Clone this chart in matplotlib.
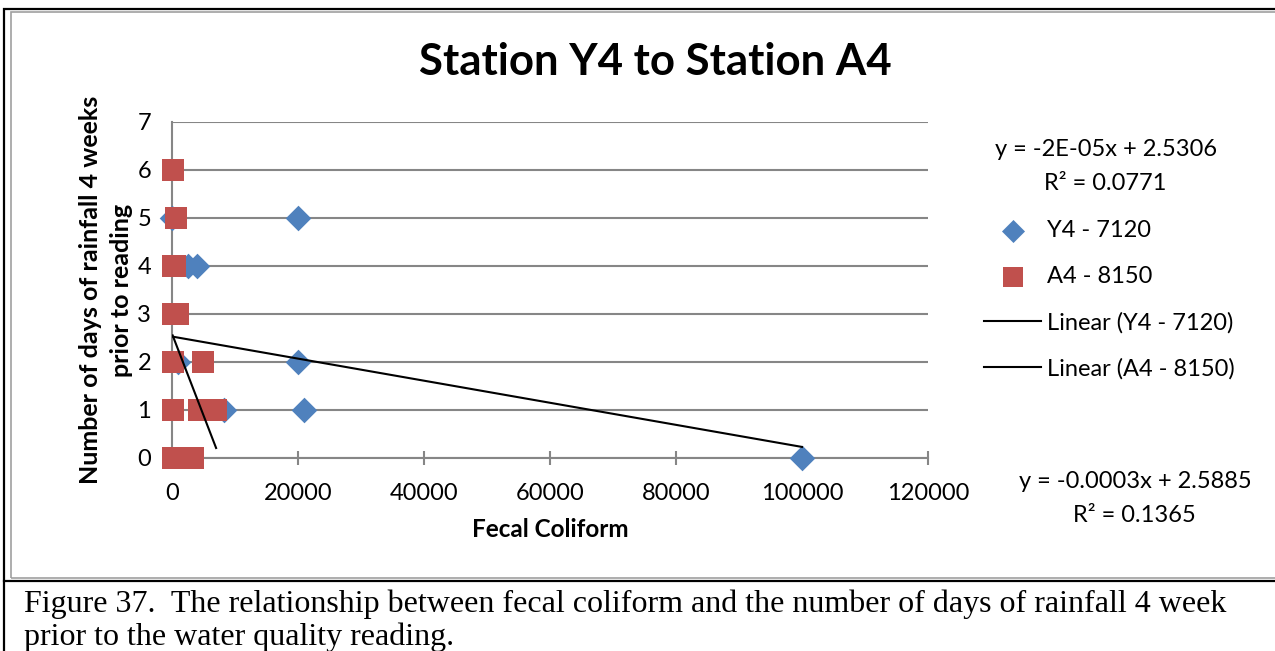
import numpy as np
import matplotlib
matplotlib.use('Agg')
from matplotlib import pyplot as plt
from matplotlib.lines import Line2D
from matplotlib.patches import Rectangle

# data
y4_fc = [0, 20000, 2500, 4000, 900, 20000, 8300, 21000, 100000]
y4_days = [5, 5, 4, 4, 2, 2, 1, 1, 0]
a4_fc = [100, 600, 200, 500, 100, 1000, 100, 5000, 100, 4300, 5800, 7000, 200, 1700, 3300]
a4_days = [6, 5, 4, 4, 3, 3, 2, 2, 1, 1, 1, 1, 0, 0, 0]

# trend line coefficients as drawn
y4_fit = (-2.3e-05, 2.5306)
a4_fit = (-0.00034, 2.5885)
y4_eq = ['y = -2E-05x + 2.5306', 'R² = 0.0771']
a4_eq = ['y = -0.0003x + 2.5885', 'R² = 0.1365']
caption = ['Figure 37.  The relationship between fecal coliform and the number of days of rainfall 4 week',
           'prior to the water quality reading.']

blue = '#4F81BD'
red = '#C0504D'
grey = '#868686'

plt.rcParams['font.family'] = ['Lato', 'DejaVu Sans']

fig = plt.figure(figsize=(12.75, 6.51), dpi=100)
W, H = 1275., 651.

def fy(py):
    # pixel row -> figure fraction
    return 1 - py/H

# table frame around the chart + caption
fig.add_artist(Rectangle((4/W, -0.1), 1.2, 1.1 - 9/H, transform=fig.transFigure,
                         fill=False, ec='black', lw=1.6))
fig.add_artist(Line2D([4/W, 1], [fy(581)]*2, transform=fig.transFigure, color='black', lw=1.6))
fig.add_artist(Rectangle((11/W, fy(578)), 1.2, (578 - 12)/H, transform=fig.transFigure,
                         fill=False, ec='#A0A0A0', lw=1.2))

ax = fig.add_axes([172/W, fy(458), (928 - 172)/W, (458 - 122)/H])

ax.scatter(y4_fc, y4_days, marker='D', s=170, color=blue, clip_on=False, zorder=3,
           label='Y4 - 7120', linewidths=0)
ax.scatter(a4_fc, a4_days, marker='s', s=240, color=red, clip_on=False, zorder=4,
           label='A4 - 8150', linewidths=0)

x1 = np.array([min(y4_fc), max(y4_fc)])
ax.plot(x1, y4_fit[0]*x1 + y4_fit[1], color='black', lw=1.5, zorder=5, label='Linear (Y4 - 7120)')
x2 = np.array([min(a4_fc), max(a4_fc)])
ax.plot(x2, a4_fit[0]*x2 + a4_fit[1], color='black', lw=1.5, zorder=5, label='Linear (A4 - 8150)')

ax.set_xlim(0, 120000)
ax.set_ylim(0, 7)
ax.set_xticks(np.arange(0, 120001, 20000))
ax.set_yticks(range(0, 8))
ax.yaxis.grid(True, color=grey, lw=1.5)
ax.set_axisbelow(True)
for s in ['top', 'right']:
    ax.spines[s].set_visible(False)
for s in ['left', 'bottom']:
    ax.spines[s].set_color(grey)
    ax.spines[s].set_linewidth(1.5)
ax.tick_params(axis='x', direction='inout', length=10, width=1.5, color=grey, labelsize=17, pad=13)
ax.tick_params(axis='y', length=0, labelsize=17, pad=15)

ax.set_xlabel('Fecal Coliform', fontsize=17.5, fontweight='bold', labelpad=10)
ax.set_ylabel('Number of days of rainfall 4 weeks\nprior to reading', fontsize=18,
              fontweight='bold', labelpad=3, linespacing=1.45)
fig.text(655/W, fy(62), 'Station Y4 to Station A4', fontsize=31.5, fontweight='bold',
         ha='center', va='center')

fig.legend(loc='center left', bbox_to_anchor=(963/W, fy(300)), frameon=False,
           fontsize=17, labelspacing=1.05, handlelength=2.4, handletextpad=0.25, markerscale=0.9)

fig.text(1106/W, fy(150), y4_eq[0], fontsize=17, ha='center', va='center')
fig.text(1105/W, fy(183), y4_eq[1], fontsize=17, ha='center', va='center')
fig.text(1135/W, fy(482), a4_eq[0], fontsize=17, ha='center', va='center')
fig.text(1134/W, fy(515), a4_eq[1], fontsize=17, ha='center', va='center')

fig.text(24/W, fy(612), caption[0], fontsize=23, family='Liberation Serif', ha='left', va='baseline')
fig.text(24/W, fy(645), caption[1], fontsize=23, family='Liberation Serif', ha='left', va='baseline')

fig.savefig('out.png', dpi=100)
